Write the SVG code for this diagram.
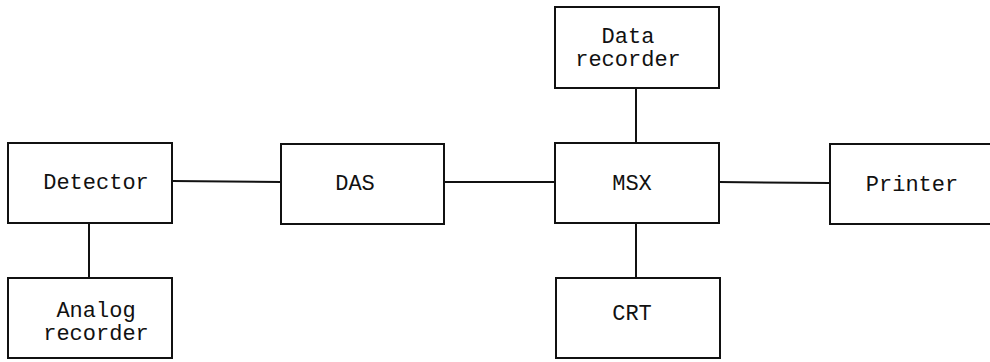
<svg xmlns="http://www.w3.org/2000/svg" width="990" height="362" viewBox="0 0 990 362">
<style>
.box{fill:#fff;stroke:#111;stroke-width:2}
.ln{stroke:#111;stroke-width:2;fill:none}
text{font-family:"Liberation Mono","Courier New",monospace;font-size:22px;fill:#111;text-anchor:middle}
</style>
<rect width="990" height="362" fill="#fff"/>
<g id="connectors">
<line class="ln" x1="172" y1="181" x2="281" y2="182"/>
<line class="ln" x1="444" y1="182" x2="555" y2="182"/>
<line class="ln" x1="719" y1="182" x2="830" y2="183"/>
<line class="ln" x1="89" y1="223" x2="89" y2="278"/>
<line class="ln" x1="636" y1="88" x2="636" y2="143"/>
<line class="ln" x1="636" y1="223" x2="636" y2="278"/>
</g>
<g id="detector"><rect class="box" x="8" y="143" width="164" height="80"/><text x="96" y="189">Detector</text></g>
<g id="analog"><rect class="box" x="8" y="278" width="164" height="80"/><text x="96" y="317">Analog</text><text x="96" y="340">recorder</text></g>
<g id="das"><rect class="box" x="281" y="144" width="163" height="80"/><text x="355" y="190">DAS</text></g>
<g id="datarec"><rect class="box" x="555" y="7" width="164" height="81"/><text x="628" y="43">Data</text><text x="628" y="66">recorder</text></g>
<g id="msx"><rect class="box" x="555" y="143" width="164" height="80"/><text x="632" y="190">MSX</text></g>
<g id="crt"><rect class="box" x="556" y="278" width="164" height="80"/><text x="632" y="320">CRT</text></g>
<g id="printer"><rect class="box" x="830" y="144" width="165" height="80"/><text x="912" y="191">Printer</text></g>
</svg>
